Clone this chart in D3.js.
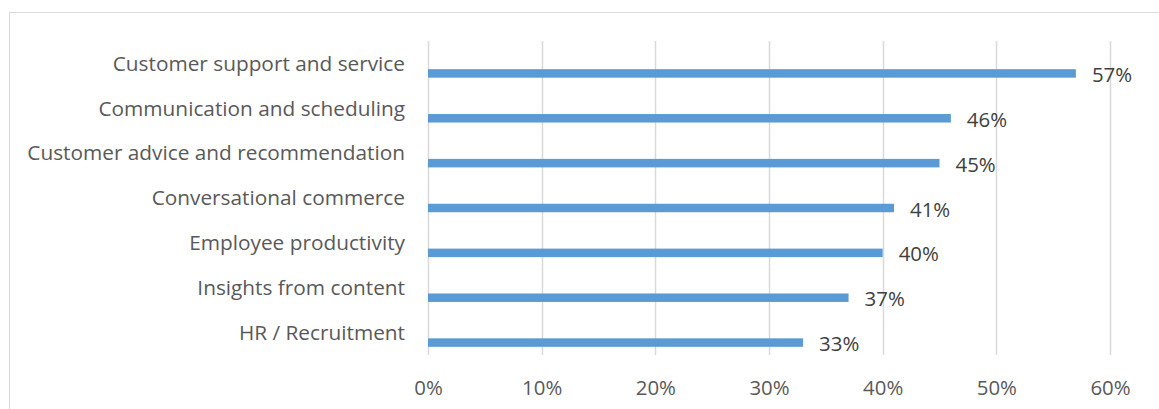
<!DOCTYPE html>
<html lang="en">
<head>
<meta charset="UTF-8">
<title>Bar chart</title>
<style>
  body { margin: 0; background: #fff; }
  svg text { font-family: "Open Sans", Lato, sans-serif; }
  .domain { display: none; }
</style>
</head>
<body>
<script src="https://d3js.org/d3.v7.min.js"></script>
<script>
// data
var categories = [
  "Customer support and service",
  "Communication and scheduling",
  "Customer advice and recommendation",
  "Conversational commerce",
  "Employee productivity",
  "Insights from content",
  "HR / Recruitment"
];
var values = [0.57, 0.46, 0.45, 0.41, 0.40, 0.37, 0.33];
var tickValues = [0, 0.1, 0.2, 0.3, 0.4, 0.5, 0.6];

var W = 1159, H = 409;
var plot = { left: 428, right: 1110, top: 41, bottom: 355 };
var labelSize = "20.8px", numSize = "20.4px";

var svg = d3.select("body").append("svg")
  .attr("width", W).attr("height", H);

// chart frame (runs off right and bottom edges)
svg.append("rect")
  .attr("x", 9.5).attr("y", 12.5)
  .attr("width", W).attr("height", H)
  .attr("fill", "none").attr("stroke", "#d9d9d9");

var x = d3.scaleLinear().domain([0, 0.6]).range([plot.left, plot.right]);
var y = d3.scaleBand().domain(categories).range([plot.top, plot.bottom]);

// gridlines
svg.append("g").selectAll("line")
  .data(tickValues).enter().append("line")
  .attr("x1", function(d) { return Math.round(x(d)) + 0.5; })
  .attr("x2", function(d) { return Math.round(x(d)) + 0.5; })
  .attr("y1", plot.top).attr("y2", plot.bottom)
  .attr("stroke", "#d9d9d9").attr("stroke-width", 1.5);

// x axis
var xAxis = d3.axisBottom(x).tickValues(tickValues)
  .tickFormat(d3.format(".0%")).tickSize(0).tickPadding(0);
var gx = svg.append("g").attr("transform", "translate(0," + (plot.bottom + 33) + ")").call(xAxis);
gx.selectAll("text").attr("fill", "#595959").style("font-size", numSize)
  .style("font-family", "'Open Sans', Lato, sans-serif").attr("dy", "0.35em").attr("y", 0);

// category labels
svg.append("g").selectAll("text")
  .data(categories).enter().append("text")
  .attr("x", 405)
  .attr("y", function(d) { return y(d) + y.bandwidth() / 2; })
  .attr("dy", "0.35em")
  .attr("text-anchor", "end")
  .attr("fill", "#595959")
  .style("font-size", labelSize)
  .text(function(d) { return d; });

// bars (sit below category centre)
var barH = 8.5, barOff = 10;
svg.append("g").selectAll("rect")
  .data(values).enter().append("rect")
  .attr("x", x(0))
  .attr("y", function(d, i) { return y(categories[i]) + y.bandwidth() / 2 + barOff - barH / 2; })
  .attr("width", function(d) { return x(d) - x(0); })
  .attr("height", barH)
  .attr("fill", "#5b9bd5");

// value labels
svg.append("g").selectAll("text")
  .data(values).enter().append("text")
  .attr("x", function(d) { return x(d) + 16; })
  .attr("y", function(d, i) { return y(categories[i]) + y.bandwidth() / 2 + barOff + 1.5; })
  .attr("dy", "0.35em")
  .attr("fill", "#404040")
  .style("font-size", numSize)
  .text(function(d) { return d3.format(".0%")(d); });
</script>
</body>
</html>
